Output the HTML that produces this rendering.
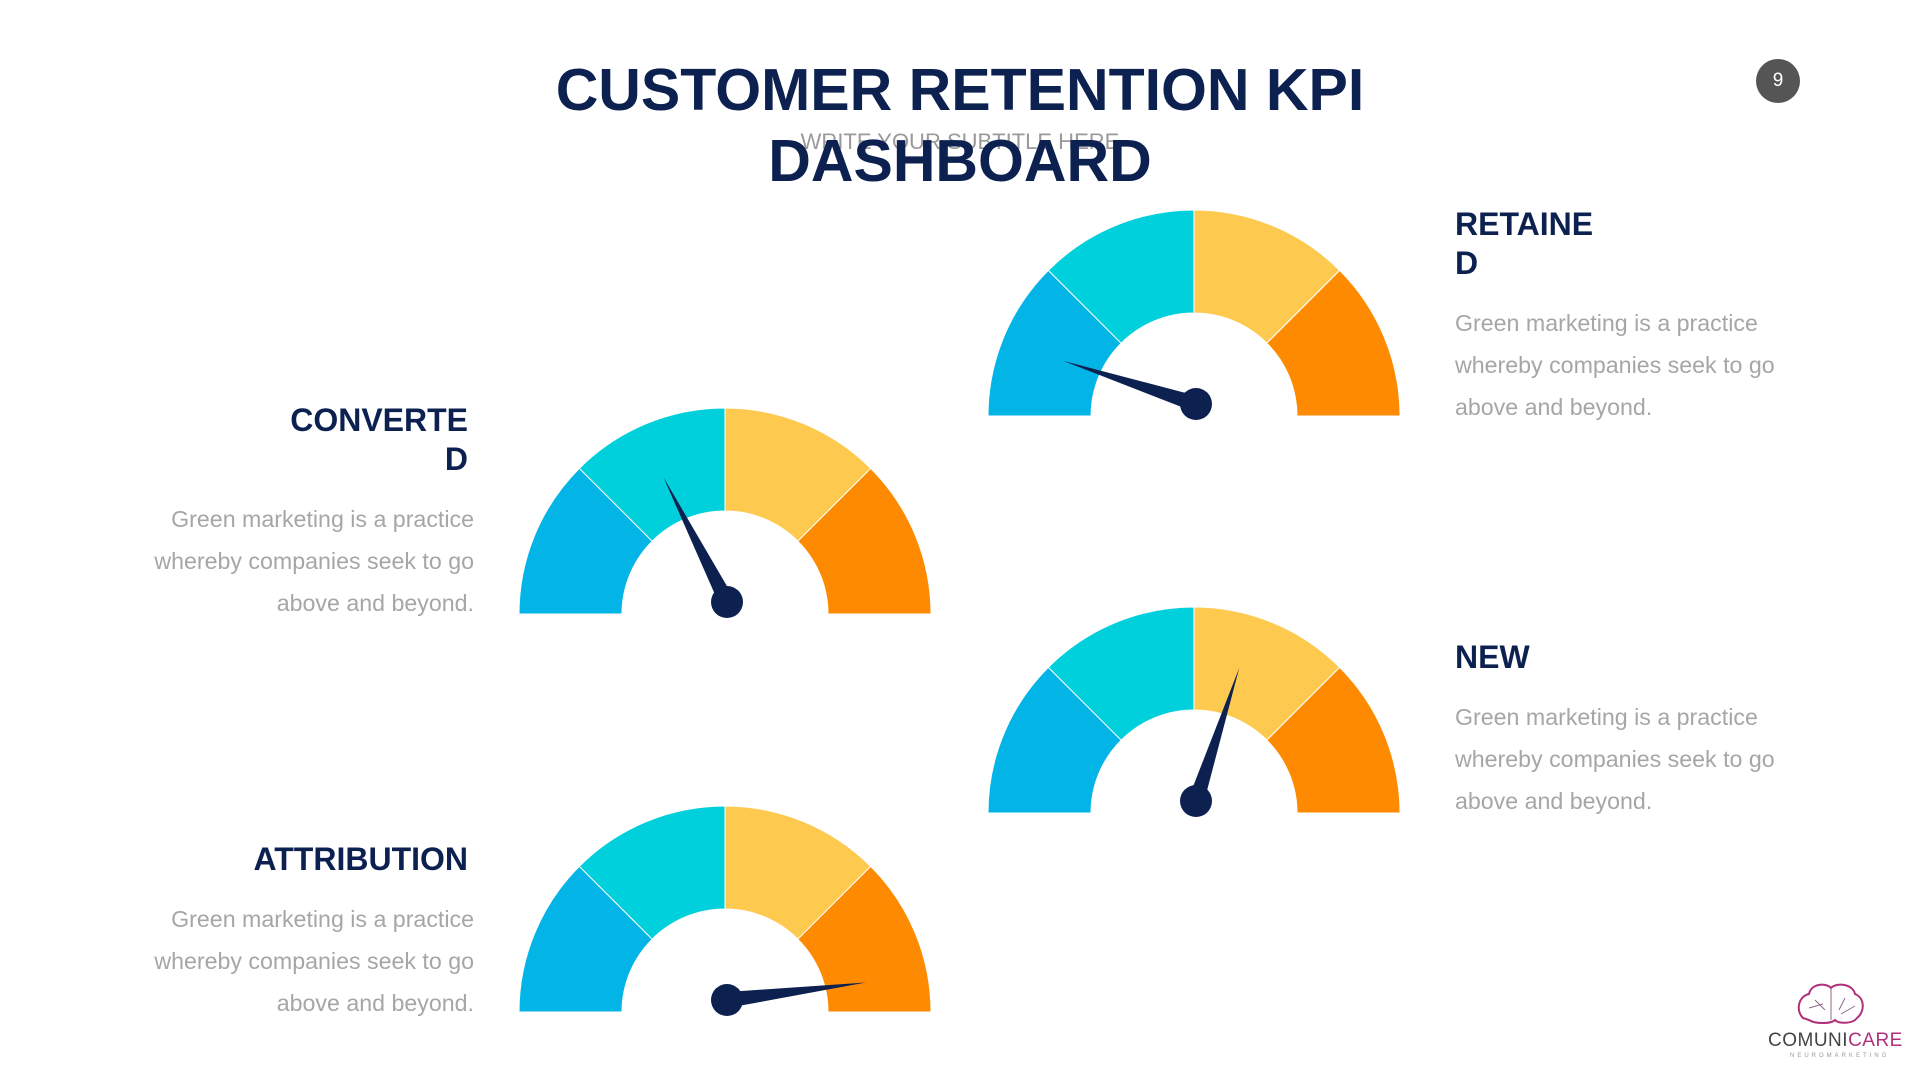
<!DOCTYPE html>
<html><head><meta charset="utf-8"><style>
html,body{margin:0;padding:0;background:#fff;}
#page{position:relative;width:1920px;height:1080px;overflow:hidden;font-family:"Liberation Sans",sans-serif;}
.t{position:absolute;white-space:nowrap;}
.title{left:0;width:1920px;text-align:center;font-weight:bold;font-size:59px;color:#0c2150;line-height:1;}
.head{font-weight:bold;font-size:32px;color:#0c2150;line-height:1;}
.body{font-size:23.2px;color:#a6a6a6;line-height:1;}
.r{text-align:right;}
</style></head><body>
<div id="page">
<div class="t title" style="top:61px">CUSTOMER RETENTION KPI</div>
<div class="t" style="left:0;width:1920px;text-align:center;top:129px;font-size:22px;color:#9a9a9a">WRITE YOUR SUBTITLE HERE</div>
<div class="t title" style="top:132px">DASHBOARD</div>
<div class="t" style="left:1756px;top:59px;width:44px;height:44px;border-radius:50%;background:#555;color:#fff;font-size:19px;text-align:center;line-height:44px">9</div>

<div class="t head" style="left:1455px;top:208px">RETAINE<br><span style="display:block;margin-top:7px">D</span></div>
<div class="t body" style="left:1455px;top:302px;line-height:42px">Green marketing is a practice<br>whereby companies seek to go<br>above and beyond.</div>

<div class="t head r" style="right:1452px;top:404px">CONVERTE<br><span style="display:block;margin-top:7px">D</span></div>
<div class="t body r" style="right:1446px;top:498px;line-height:42px">Green marketing is a practice<br>whereby companies seek to go<br>above and beyond.</div>

<div class="t head" style="left:1455px;top:641px">NEW</div>
<div class="t body" style="left:1455px;top:696px;line-height:42px">Green marketing is a practice<br>whereby companies seek to go<br>above and beyond.</div>

<div class="t head r" style="right:1452px;top:843px">ATTRIBUTION</div>
<div class="t body r" style="right:1446px;top:898px;line-height:42px">Green marketing is a practice<br>whereby companies seek to go<br>above and beyond.</div>

<svg id="g" width="1920" height="1080" style="position:absolute;left:0;top:0"></svg>

<div class="t" style="left:1768px;top:1030px;font-size:19px;color:#444;letter-spacing:0.5px">COMUNI<span style="color:#b0307c">CARE</span></div>
<div class="t" style="left:1790px;top:1053px;font-size:6px;color:#999;letter-spacing:3px">NEUROMARKETING</div>
<svg class="t" style="left:1795px;top:980px" width="72" height="50">
<path d="M8 38 C0 30 4 16 14 14 C16 4 30 2 36 8 C42 2 58 4 60 14 C70 18 70 32 62 38 C58 44 44 44 40 40 C36 44 20 44 14 40 Z" fill="none" stroke="#b0307c" stroke-width="2"/>
<path d="M36 8 L36 40 M20 20 L30 30 M50 18 L44 30 M14 28 L28 24 M46 34 L60 26" stroke="#8a6a8a" stroke-width="1" fill="none"/>
</svg>
</div>
<script>
const gaugeNames = ['retained','converted','new','attribution'];
const gaugeValues = [10, 35, 60, 96]; // percent of gauge sweep, 0 = left, 100 = right
const gaugeMin = 0, gaugeMax = 100;
const centers = [[1194,416],[725,614],[1194,813],[725,1012]];
const colors = ['#03b4e6','#00d0dc','#fdca4f','#fd8a00'];
const R = 206, r = 103, L = 140;
const svg = document.getElementById('g');
const NS = 'http://www.w3.org/2000/svg';
function angleOf(v){ return Math.PI - (v - gaugeMin)/(gaugeMax-gaugeMin)*Math.PI; }
function pt(cx,cy,rad,a){ return [cx+rad*Math.cos(a), cy-rad*Math.sin(a)]; }
gaugeNames.forEach((name,i)=>{
  const [cx,cy] = centers[i];
  for(let s=0;s<4;s++){
    const a0 = Math.PI - s*Math.PI/4, a1 = Math.PI - (s+1)*Math.PI/4;
    const p0=pt(cx,cy,R,a0), p1=pt(cx,cy,R,a1), p2=pt(cx,cy,r,a1), p3=pt(cx,cy,r,a0);
    const p = document.createElementNS(NS,'path');
    p.setAttribute('d',`M${p0} A${R} ${R} 0 0 1 ${p1} L${p2} A${r} ${r} 0 0 0 ${p3} Z`);
    p.setAttribute('fill',colors[s]);
    p.setAttribute('stroke','#fff');
    p.setAttribute('stroke-width','1');
    
    
    svg.appendChild(p);
  }
  const px = cx+2, py = cy-12;
  const a = angleOf(gaugeValues[i]);
  const tip = pt(px,py,L,a);
  const w = 8;
  const b1 = [px + w*Math.cos(a+Math.PI/2), py - w*Math.sin(a+Math.PI/2)];
  const b2 = [px + w*Math.cos(a-Math.PI/2), py - w*Math.sin(a-Math.PI/2)];
  const n = document.createElementNS(NS,'polygon');
  n.setAttribute('points',`${tip} ${b1} ${b2}`);
  n.setAttribute('fill','#0c2150');
  
  
  svg.appendChild(n);
  const c = document.createElementNS(NS,'circle');
  c.setAttribute('cx',px); c.setAttribute('cy',py); c.setAttribute('r',16);
  c.setAttribute('fill','#0c2150');
  
  
  svg.appendChild(c);
});
</script>
</body></html>
